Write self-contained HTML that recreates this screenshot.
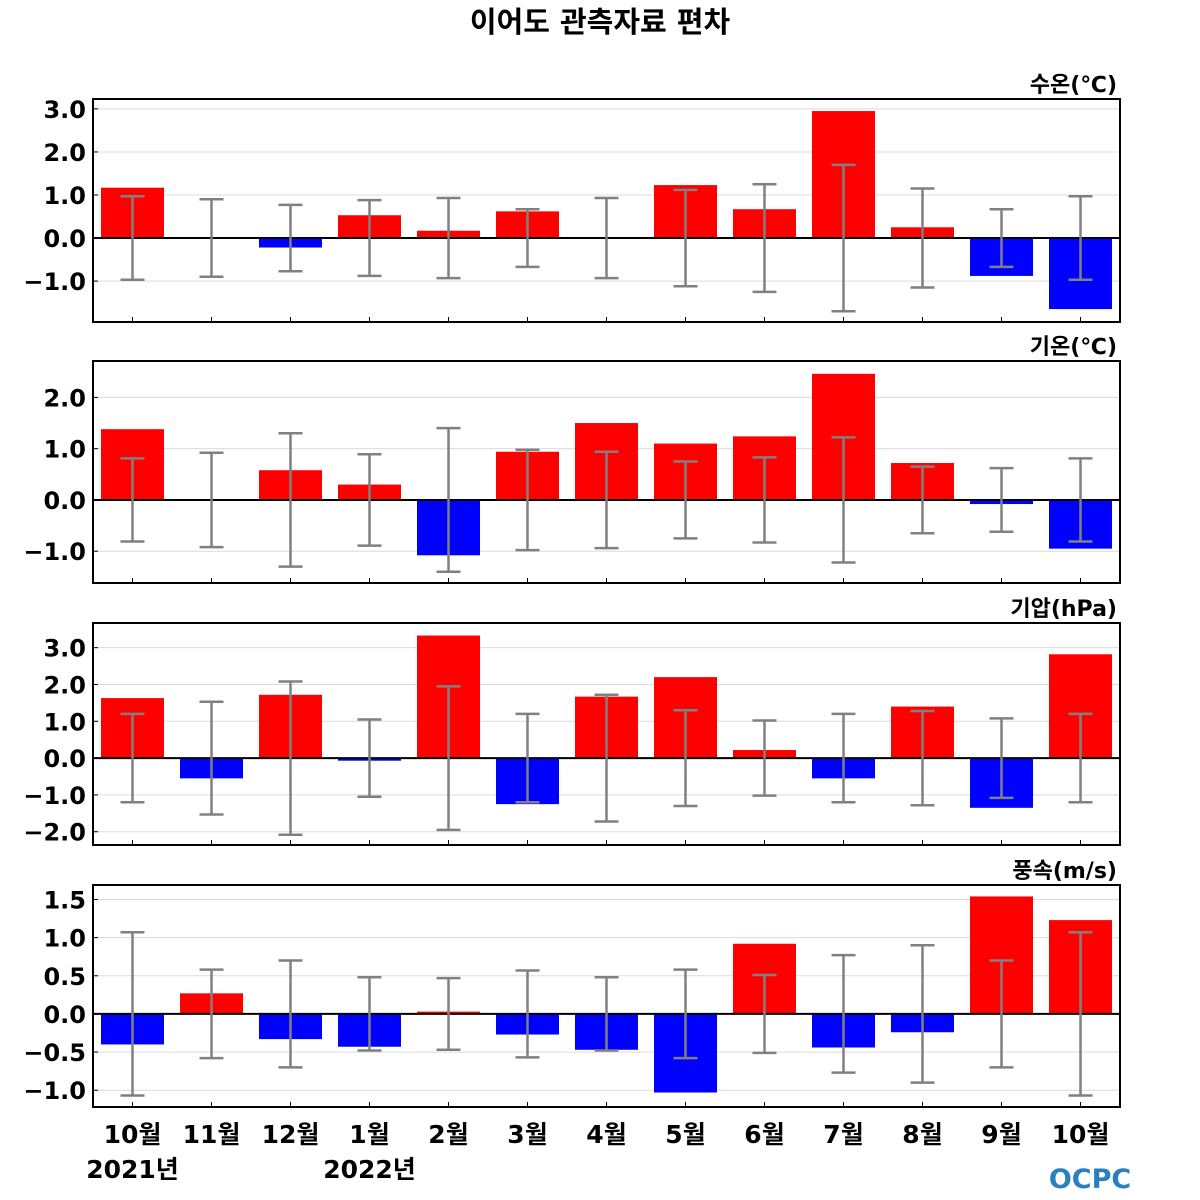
<!DOCTYPE html>
<html><head><meta charset="utf-8"><style>
html,body{margin:0;padding:0;background:#fff;}
svg{display:block;font-family:"DejaVu Sans","Noto Sans CJK KR",sans-serif;}
</style></head><body>
<svg id="chart" width="1200" height="1200">
<text x="600" y="32" text-anchor="middle" font-size="29" font-weight="bold">이어도 관측자료 편차</text>
</svg>
<script>
const categories=["10월","11월","12월","1월","2월","3월","4월","5월","6월","7월","8월","9월","10월"];
const waterTemp=[1.17,0.02,-0.22,0.53,0.17,0.62,0.02,1.23,0.67,2.95,0.25,-0.88,-1.65];
const waterTempErr=[0.97,0.90,0.77,0.88,0.93,0.67,0.93,1.12,1.25,1.70,1.15,0.67,0.97];
const airTemp=[1.38,0.0,0.58,0.30,-1.08,0.94,1.50,1.10,1.24,2.46,0.72,-0.08,-0.95];
const airTempErr=[0.81,0.92,1.30,0.89,1.40,0.98,0.94,0.75,0.83,1.22,0.65,0.62,0.81];
const pressure=[1.63,-0.55,1.72,-0.07,3.33,-1.25,1.67,2.20,0.22,-0.55,1.40,-1.35,2.82];
const pressureErr=[1.20,1.53,2.08,1.05,1.95,1.20,1.72,1.30,1.02,1.20,1.28,1.08,1.20];
const wind=[-0.40,0.27,-0.33,-0.43,0.03,-0.27,-0.47,-1.03,0.92,-0.44,-0.24,1.54,1.23];
const windErr=[1.07,0.58,0.70,0.48,0.47,0.57,0.48,0.58,0.51,0.77,0.90,0.70,1.07];
const ticks1=[3,2,1,0,-1], ticks2=[2,1,0,-1], ticks3=[3,2,1,0,-1,-2], ticks4=[1.5,1,0.5,0,-0.5,-1];

const svg=document.getElementById('chart');
const NS='http://www.w3.org/2000/svg';
function mk(tag,attrs){const e=document.createElementNS(NS,tag);for(const k in attrs)e.setAttribute(k,attrs[k]);svg.appendChild(e);return e;}
const L=93,R=1120;
const step=(R-L)/categories.length;
function xC(i){return L+step*(i+0.5);}
function fmt(v,d){let s=Math.abs(v).toFixed(d);return (v<0?'\u2212':'')+s;}

const panels=[
 {name:'water-temp',label:'수온(℃)',vals:waterTemp,err:waterTempErr,ticks:ticks1,top:99,bot:322,ymax:3.23,ymin:-1.95,dec:1},
 {name:'air-temp',label:'기온(℃)',vals:airTemp,err:airTempErr,ticks:ticks2,top:361,bot:583,ymax:2.71,ymin:-1.62,dec:1},
 {name:'pressure',label:'기압(hPa)',vals:pressure,err:pressureErr,ticks:ticks3,top:623,bot:845,ymax:3.67,ymin:-2.36,dec:1},
 {name:'wind-speed',label:'풍속(m/s)',vals:wind,err:windErr,ticks:ticks4,top:885,bot:1107,ymax:1.69,ymin:-1.22,dec:1}
];
panels.forEach(p=>{
 const y=v=>p.top+(p.ymax-v)/(p.ymax-p.ymin)*(p.bot-p.top);
 p.ticks.forEach(t=>{
  const g=mk('line',{x1:L,x2:R,y1:y(t),y2:y(t),stroke:'#dcdcdc','stroke-width':1});
  
  
  const tl=mk('text',{x:86,y:y(t)+9,'text-anchor':'end','font-size':24,'font-weight':'bold'});
  tl.textContent=fmt(t,p.dec);
  
  
  const tk=mk('line',{x1:L,x2:L+5,y1:y(t),y2:y(t),stroke:'#000','stroke-width':1});
  
  
 });
 p.vals.forEach((v,i)=>{
  const bw=63;
  const y0=y(0),y1=y(v);
  const b=mk('rect',{x:xC(i)-bw/2,y:Math.min(y0,y1),width:bw,height:Math.max(Math.abs(y1-y0),1),fill:v>=0?'#ff0000':'#0000ff'});
  
  
 });
 mk('line',{x1:L,x2:R,y1:y(0),y2:y(0),stroke:'#000','stroke-width':2});
 p.err.forEach((e,i)=>{
  const g=document.createElementNS(NS,'g');svg.appendChild(g);
  
  
  const cx=xC(i);
  [[cx,y(e),cx,y(-e)],[cx-12,y(e),cx+12,y(e)],[cx-12,y(-e),cx+12,y(-e)]].forEach(c=>{
   const l=document.createElementNS(NS,'line');
   l.setAttribute('x1',c[0]);l.setAttribute('y1',c[1]);l.setAttribute('x2',c[2]);l.setAttribute('y2',c[3]);
   l.setAttribute('stroke','#808080');l.setAttribute('stroke-width',2.5);g.appendChild(l);
  });
 });
 categories.forEach((c,i)=>{
  const t=mk('line',{x1:xC(i),x2:xC(i),y1:p.bot,y2:p.bot-5,stroke:'#000','stroke-width':1});
  
  
 });
 const fr=mk('rect',{x:L,y:p.top,width:R-L,height:p.bot-p.top,fill:'none',stroke:'#000','stroke-width':2});
 
 
 const lb=mk('text',{x:R-3,y:p.top-7,'text-anchor':'end','font-size':22,'font-weight':'bold'});
 lb.textContent=p.label;
 
 
});
categories.forEach((c,i)=>{
 const t=mk('text',{x:xC(i),y:1143,'text-anchor':'middle','font-size':25,'font-weight':'bold'});
 t.textContent=c;
 
 
});
[["2021년",xC(0)],["2022년",xC(3)]].forEach(a=>{
 const t=mk('text',{x:a[1],y:1178,'text-anchor':'middle','font-size':25,'font-weight':'bold'});
 t.textContent=a[0];
 
 
});
const logo=mk('text',{x:1090,y:1188,'text-anchor':'middle','font-size':27,'font-weight':'bold',fill:'#2a7fc0'});
logo.textContent='OCPC';


</script>
</body></html>
